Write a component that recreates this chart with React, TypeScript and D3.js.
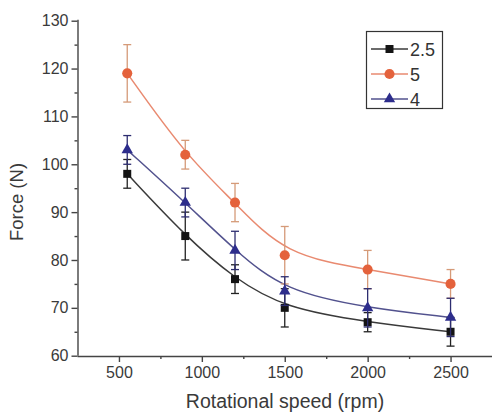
import React, { useEffect, useRef } from 'react'
import * as d3 from 'd3'

// rotational speed (rpm)
const speeds = [550, 900, 1200, 1500, 2000, 2500]

// force (N) and error half-widths for each series
const force25 = [98, 85, 76, 70, 67, 65]
const err25 = [3, 5, 3, 4, 2, 3]
const force5 = [119, 102, 92, 81, 78, 75]
const err5 = [6, 3, 4, 6, 4, 3]
const force4 = [103, 92, 82, 73.5, 70, 68]
const err4 = [3, 3, 4, 3, 4, 4]

const seriesNames = ['2.5', '5', '4']
const xTicks = [500, 1000, 1500, 2000, 2500]
const yTicks = [60, 70, 80, 90, 100, 110, 120, 130]

const FONT = 'Liberation Sans, Arial, sans-serif'

function App () {
  const ref = useRef<SVGSVGElement>(null)

  useEffect(() => {
    const svg = d3.select(ref.current)
    svg.selectAll('*').remove()

    const width = 492
    const height = 415
    const margin = { top: 21, right: 0, bottom: 59, left: 77.5 }

    const x = d3.scaleLinear()
      .domain([250, 2750])
      .range([margin.left, width - margin.right])
    const y = d3.scaleLinear()
      .domain([60, 130])
      .range([height - margin.bottom - 0.3, margin.top - 0.3])

    const series = [
      { name: seriesNames[0], values: force25, errs: err25, marker: 'square', fill: '#141414', line: '#3a3a3a', bar: '#222' },
      { name: seriesNames[1], values: force5, errs: err5, marker: 'circle', fill: '#e4623c', line: '#e98a70', bar: '#d59a78' },
      { name: seriesNames[2], values: force4, errs: err4, marker: 'triangle', fill: '#2d2d8c', line: '#52528e', bar: '#2d2d70' }
    ]

    const symbolOf = (m: string) => {
      if (m === 'square') return d3.symbol(d3.symbolSquare, 64)
      if (m === 'circle') return d3.symbol(d3.symbolCircle, 80)
      return d3.symbol(d3.symbolTriangle, 56)
    }

    // axes
    const yAxis = svg.append('g')
      .attr('transform', 'translate(' + margin.left + ',0)')
      .call(d3.axisLeft(y).tickValues(yTicks).tickSize(6).tickPadding(3).tickFormat(d3.format('d')))
    const yMinor = svg.append('g')
      .attr('transform', 'translate(' + margin.left + ',0)')
      .call(d3.axisLeft(y).tickValues(d3.range(65, 130, 10)).tickSize(3).tickFormat(() => ''))
    yMinor.select('.domain').remove()

    const xAxis = svg.append('g')
      .attr('transform', 'translate(0,' + (height - margin.bottom) + ')')
      .call(d3.axisBottom(x).tickValues(xTicks).tickSize(6).tickPadding(5).tickFormat(d3.format('d')))
    const xMinor = svg.append('g')
      .attr('transform', 'translate(0,' + (height - margin.bottom) + ')')
      .call(d3.axisBottom(x).tickValues([750, 1250, 1750, 2250]).tickSize(3).tickFormat(() => ''))
    xMinor.select('.domain').remove()

    svg.selectAll('.domain, .tick line')
      .attr('stroke', '#444')
      .attr('stroke-width', 1.4)
    yAxis.select('.domain').attr('d', 'M0.5,' + y(60) + 'V' + (y(130) - 1))
    xAxis.select('.domain').attr('d', 'M' + margin.left + ',0.5H' + width)
    svg.selectAll('.tick text')
      .attr('fill', '#3a3a3a')
      .style('font-family', FONT)
      .style('font-size', '16px')

    // fitted curves
    const line = d3.line<number>()
      .x((d, i) => x(speeds[i]))
      .y(d => y(d))
      .curve(d3.curveBasis)

    series.forEach(s => {
      svg.append('path')
        .datum(s.values)
        .attr('fill', 'none')
        .attr('stroke', s.line)
        .attr('stroke-width', 1.5)
        .attr('d', line)
    })

    // error bars and markers
    series.forEach(s => {
      const g = svg.append('g')
      s.values.forEach((v, i) => {
        const cx = x(speeds[i])
        const lo = y(v - s.errs[i])
        const hi = y(v + s.errs[i])
        g.append('line')
          .attr('x1', cx).attr('x2', cx).attr('y1', lo).attr('y2', hi)
          .attr('stroke', s.bar).attr('stroke-width', 1.3)
        ;[lo, hi].forEach(yy => {
          g.append('line')
            .attr('x1', cx - 4).attr('x2', cx + 4).attr('y1', yy).attr('y2', yy)
            .attr('stroke', s.bar).attr('stroke-width', 1.3)
        })
      })
      g.selectAll('path.mark')
        .data(s.values)
        .enter()
        .append('path')
        .attr('class', 'mark')
        .attr('d', symbolOf(s.marker))
        .attr('transform', (d, i) => 'translate(' + x(speeds[i]) + ',' + y(d) + ')')
        .attr('fill', s.fill)
    })

    // axis titles
    svg.append('text')
      .attr('x', 285)
      .attr('y', 408)
      .attr('text-anchor', 'middle')
      .attr('fill', '#3a3a3a')
      .style('font-family', FONT)
      .style('font-size', '19.5px')
      .text('Rotational speed (rpm)')

    svg.append('g')
      .attr('transform', 'translate(23,202)')
      .append('text')
      .attr('text-anchor', 'middle')
      .attr('transform', 'rotate(-90)')
      .attr('fill', '#3a3a3a')
      .style('font-family', FONT)
      .style('font-size', '18.5px')
      .text('Force (N)')

    // legend
    const lg = svg.append('g')
    lg.append('rect')
      .attr('x', 366.5).attr('y', 31.5).attr('width', 76).attr('height', 77)
      .attr('fill', 'white').attr('stroke', '#333').attr('stroke-width', 1.2)
    series.forEach((s, i) => {
      const ly = 49 + i * 25
      lg.append('line')
        .attr('x1', 371).attr('x2', 408).attr('y1', ly).attr('y2', ly)
        .attr('stroke', s.line).attr('stroke-width', 1.5)
      lg.append('path')
        .attr('d', symbolOf(s.marker))
        .attr('transform', 'translate(389.5,' + ly + ')')
        .attr('fill', s.fill)
      lg.append('text')
        .attr('x', 410)
        .attr('y', ly + 6.5)
        .attr('fill', '#333')
        .style('font-family', FONT)
        .style('font-size', '18px')
        .text(s.name)
    })
  }, [])

  return (
    <svg
      ref={ref}
      width={492}
      height={415}
      style={{ position: 'absolute', left: 0, top: 0, background: 'white' }}
    />
  )
}

export default App
